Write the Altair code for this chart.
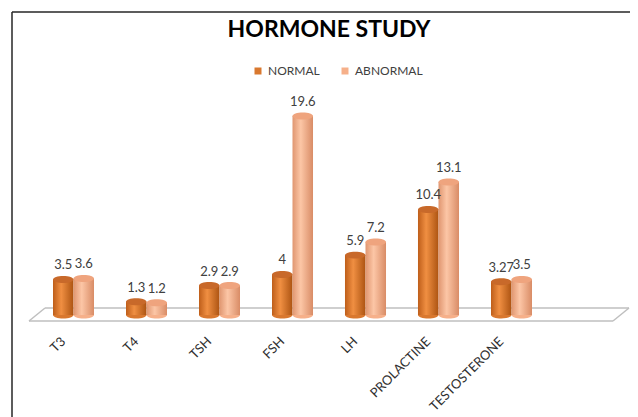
import altair as alt
import pandas as pd

hormones = ["T3", "T4", "TSH", "FSH", "LH", "PROLACTINE", "TESTOSTERONE"]
groups = ["NORMAL", "ABNORMAL"]
normal = [3.5, 1.3, 2.9, 4, 5.9, 10.4, 3.27]
abnormal = [3.6, 1.2, 2.9, 19.6, 7.2, 13.1, 3.5]
normal_labels = ["3.5", "1.3", "2.9", "4", "5.9", "10.4", "3.27"]
abnormal_labels = ["3.6", "1.2", "2.9", "19.6", "7.2", "13.1", "3.5"]

rows = []
for h, v, l in zip(hormones, normal, normal_labels):
    rows.append({"hormone": h, "group": "NORMAL", "value": v, "label": l, "zero": 0})
for h, v, l in zip(hormones, abnormal, abnormal_labels):
    rows.append({"hormone": h, "group": "ABNORMAL", "value": v, "label": l, "zero": 0})
df = pd.DataFrame(rows)

FONT = "Lato"
TXT = "#404040"
ELLIPSE = "M-1,0A1,0.34,0,1,1,1,0A1,0.34,0,1,1,-1,0Z"

x_enc = alt.X(
    "hormone:N",
    sort=hormones,
    scale=alt.Scale(domain=hormones, range=[29, 540], paddingInner=0.438, paddingOuter=0.219),
    axis=alt.Axis(
        title=None, domain=False, ticks=False, grid=False,
        labelAngle=-45, labelAlign="right", labelBaseline="middle",
        labelOffset=-10, labelPadding=4, labelFont=FONT, labelFontSize=13,
        labelColor="#303030", labelOverlap=False, labelBound=False,
    ),
)
xo_enc = alt.XOffset("group:N", sort=groups,
                     scale=alt.Scale(domain=groups, paddingInner=0, paddingOuter=0))
y_scale = alt.Scale(domain=[0, 20], range=[247, 44], nice=False)

base = alt.Chart(df)


def grad(c_edge_l, c_mid, c_edge_r):
    return alt.LinearGradient(
        gradient="linear", x1=0, x2=1, y1=0, y2=0,
        stops=[
            alt.GradientStop(color=c_edge_l, offset=0),
            alt.GradientStop(color=c_mid, offset=0.4),
            alt.GradientStop(color=c_edge_r, offset=1),
        ],
    )


# decorative frame and floor
deco = alt.Chart(pd.DataFrame({"d": [0]}))
frame_top = deco.mark_rule(color="#262626", strokeWidth=1.5).encode(
    x=alt.value(4), x2=alt.value(622), y=alt.value(-56), y2=alt.value(-56))
frame_left = deco.mark_rule(color="#262626", strokeWidth=1.5).encode(
    x=alt.value(4), x2=alt.value(4), y=alt.value(-56), y2=alt.value(350))
floor_c = "#BFBFBF"
floor_back = deco.mark_rule(color=floor_c, strokeWidth=1.5).encode(
    x=alt.value(37), x2=alt.value(621), y=alt.value(240), y2=alt.value(240))
floor_front = deco.mark_rule(color=floor_c, strokeWidth=1.5).encode(
    x=alt.value(21), x2=alt.value(605), y=alt.value(253), y2=alt.value(253))
floor_left = deco.mark_rule(color=floor_c, strokeWidth=1.5).encode(
    x=alt.value(21), x2=alt.value(37), y=alt.value(253), y2=alt.value(240))
floor_right = deco.mark_rule(color=floor_c, strokeWidth=1.5).encode(
    x=alt.value(605), x2=alt.value(621), y=alt.value(253), y2=alt.value(240))

bottom = base.mark_point(shape=ELLIPSE, filled=True, size=420, opacity=1, strokeWidth=0).encode(
    x=x_enc, xOffset=xo_enc,
    y=alt.Y("zero:Q", scale=y_scale, axis=None),
    color=alt.Color(
        "group:N", sort=groups,
        scale=alt.Scale(domain=groups, range=["#D9782F", "#F6B08A"]),
        legend=alt.Legend(
            title=None, orient="none", legendX=244, legendY=-3, direction="horizontal",
            symbolType="square", symbolSize=49, symbolStrokeWidth=0,
            labelFont=FONT, labelFontSize=12, labelColor=TXT,
            columnPadding=19, labelOffset=4,
        ),
    ),
)

bars_n = base.transform_filter(alt.datum.group == "NORMAL").mark_bar(
    color=grad("#BE5E1A", "#F08F42", "#AD5412")).encode(
    x=x_enc, xOffset=xo_enc, y=alt.Y("value:Q", scale=y_scale, axis=None))
bars_a = base.transform_filter(alt.datum.group == "ABNORMAL").mark_bar(
    color=grad("#E09670", "#FCC6A6", "#D98C66")).encode(
    x=x_enc, xOffset=xo_enc, y=alt.Y("value:Q", scale=y_scale, axis=None))

top_n = base.transform_filter(alt.datum.group == "NORMAL").mark_point(
    shape=ELLIPSE, filled=True, size=420, opacity=1, strokeWidth=0, color="#C8692A").encode(
    x=x_enc, xOffset=xo_enc, y=alt.Y("value:Q", scale=y_scale, axis=None))
top_a = base.transform_filter(alt.datum.group == "ABNORMAL").mark_point(
    shape=ELLIPSE, filled=True, size=420, opacity=1, strokeWidth=0, color="#EFA47E").encode(
    x=x_enc, xOffset=xo_enc, y=alt.Y("value:Q", scale=y_scale, axis=None))

labels = base.mark_text(baseline="bottom", dy=-7, font=FONT, fontSize=13, color=TXT).encode(
    x=x_enc, xOffset=xo_enc, y=alt.Y("value:Q", scale=y_scale, axis=None), text="label:N")

chart = alt.layer(
    frame_top, frame_left, floor_back, floor_front, floor_left, floor_right,
    bottom, bars_n, bars_a, top_n, top_a, labels,
).properties(
    width=622, height=267,
    padding={"left": 0, "top": 60, "right": 0, "bottom": 82},
    autosize=alt.AutoSizeParams(type="none"),
    title=alt.Title("HORMONE STUDY", font=FONT, fontSize=23, fontWeight="bold",
                    color="#000000", anchor="middle", frame="group", offset=-31, dx=10),
).configure_view(stroke=None)

chart.save("out.html", embed_options={"renderer": "svg", "actions": False})
